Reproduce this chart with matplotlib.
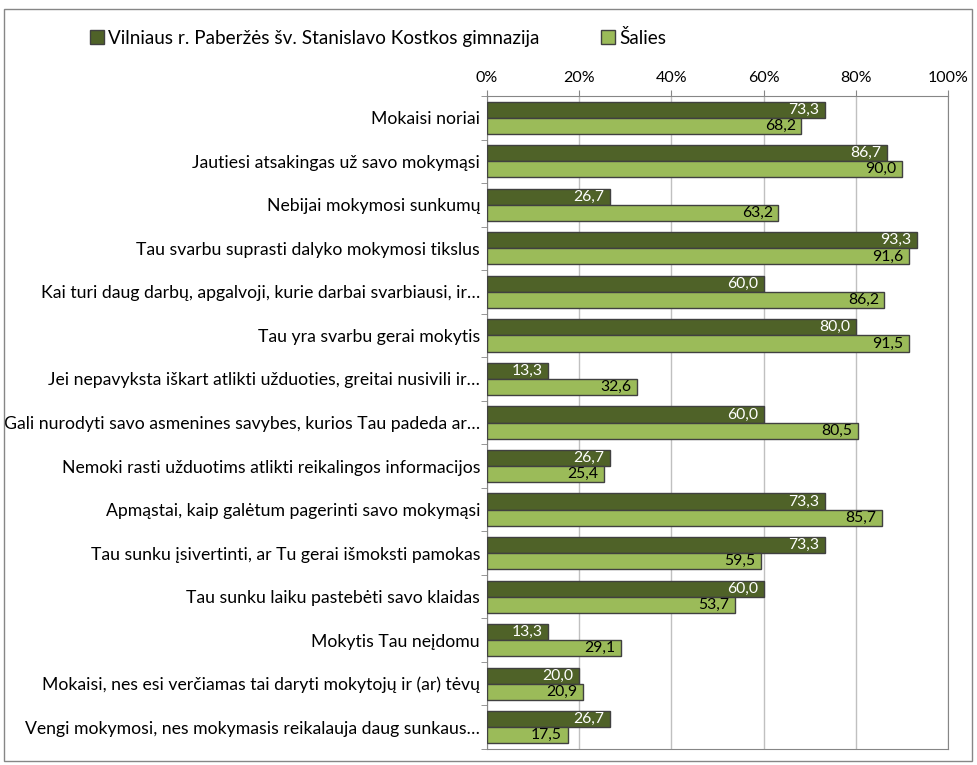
import matplotlib.pyplot as plt
import numpy as np

plt.rcParams['font.family'] = ['Lato', 'DejaVu Sans']

categories = [
    "Mokaisi noriai",
    "Jautiesi atsakingas už savo mokymąsi",
    "Nebijai mokymosi sunkumų",
    "Tau svarbu suprasti dalyko mokymosi tikslus",
    "Kai turi daug darbų, apgalvoji, kurie darbai svarbiausi, ir…",
    "Tau yra svarbu gerai mokytis",
    "Jei nepavyksta iškart atlikti užduoties, greitai nusivili ir…",
    "Gali nurodyti savo asmenines savybes, kurios Tau padeda ar…",
    "Nemoki rasti užduotims atlikti reikalingos informacijos",
    "Apmąstai, kaip galėtum pagerinti savo mokymąsi",
    "Tau sunku įsivertinti, ar Tu gerai išmoksti pamokas",
    "Tau sunku laiku pastebėti savo klaidas",
    "Mokytis Tau neįdomu",
    "Mokaisi, nes esi verčiamas tai daryti mokytojų ir (ar) tėvų",
    "Vengi mokymosi, nes mokymasis reikalauja daug sunkaus…",
]
school = [73.3, 86.7, 26.7, 93.3, 60.0, 80.0, 13.3, 60.0, 26.7, 73.3, 73.3, 60.0, 13.3, 20.0, 26.7]
country = [68.2, 90.0, 63.2, 91.6, 86.2, 91.5, 32.6, 80.5, 25.4, 85.7, 59.5, 53.7, 29.1, 20.9, 17.5]
series_names = ["Vilniaus r. Paberžės šv. Stanislavo Kostkos gimnazija", "Šalies"]
dark_green = "#4f6228"
light_green = "#9bbb59"

fig = plt.figure(figsize=(9.77, 7.65), dpi=100)
ax = fig.add_axes([487 / 977, 1 - 749 / 765, (948 - 487) / 977, (749 - 96) / 765])

y = np.arange(len(categories))
h = 0.37
b1 = ax.barh(y - h / 2, school, height=h, color=dark_green, edgecolor="#404040", linewidth=1, label=series_names[0], zorder=3)
b2 = ax.barh(y + h / 2, country, height=h, color=light_green, edgecolor="#404040", linewidth=1, label=series_names[1], zorder=3)

for bar, v in zip(b1, school):
    ax.text(v - 1.2, bar.get_y() + bar.get_height() / 2, f"{v:.1f}".replace(".", ","),
            ha="right", va="center", color="white", fontsize=11.3, zorder=4)
for bar, v in zip(b2, country):
    ax.text(v - 1.2, bar.get_y() + bar.get_height() / 2, f"{v:.1f}".replace(".", ","),
            ha="right", va="center", color="black", fontsize=11.3, zorder=4)

ax.set_xlim(0, 100)
ax.set_ylim(len(categories) - 0.5, -0.5)
ax.xaxis.tick_top()
ax.set_xticks([0, 20, 40, 60, 80, 100])
ax.set_xticklabels(["0%", "20%", "40%", "60%", "80%", "100%"], fontsize=11.5)
ax.set_yticks(y)
ax.set_yticklabels(categories, fontsize=12.7)
ax.tick_params(axis="y", length=0, pad=5)
ax.tick_params(axis="x", length=4, color="#868686", pad=4)
ax.set_yticks(np.arange(len(categories) + 1) - 0.5, minor=True)
ax.tick_params(axis="y", which="minor", length=4, color="#868686")
ax.grid(axis="x", color="#c0c0c0", linewidth=1, zorder=0)
for s in ax.spines.values():
    s.set_color("#868686")

fig.legend(handles=[b1, b2], loc="center left", bbox_to_anchor=(82 / 977, 1 - 38 / 765),
           ncol=2, frameon=False, fontsize=13.6, handlelength=0.75, handleheight=0.75,
           handletextpad=0.2, columnspacing=3.3, borderaxespad=0)

fig.patches.append(plt.Rectangle((4 / 977, 4 / 765), 968 / 977, (765 - 13) / 765,
                                 transform=fig.transFigure, fill=False, edgecolor="#868686", linewidth=1))

fig.savefig("out.png", dpi=100)
